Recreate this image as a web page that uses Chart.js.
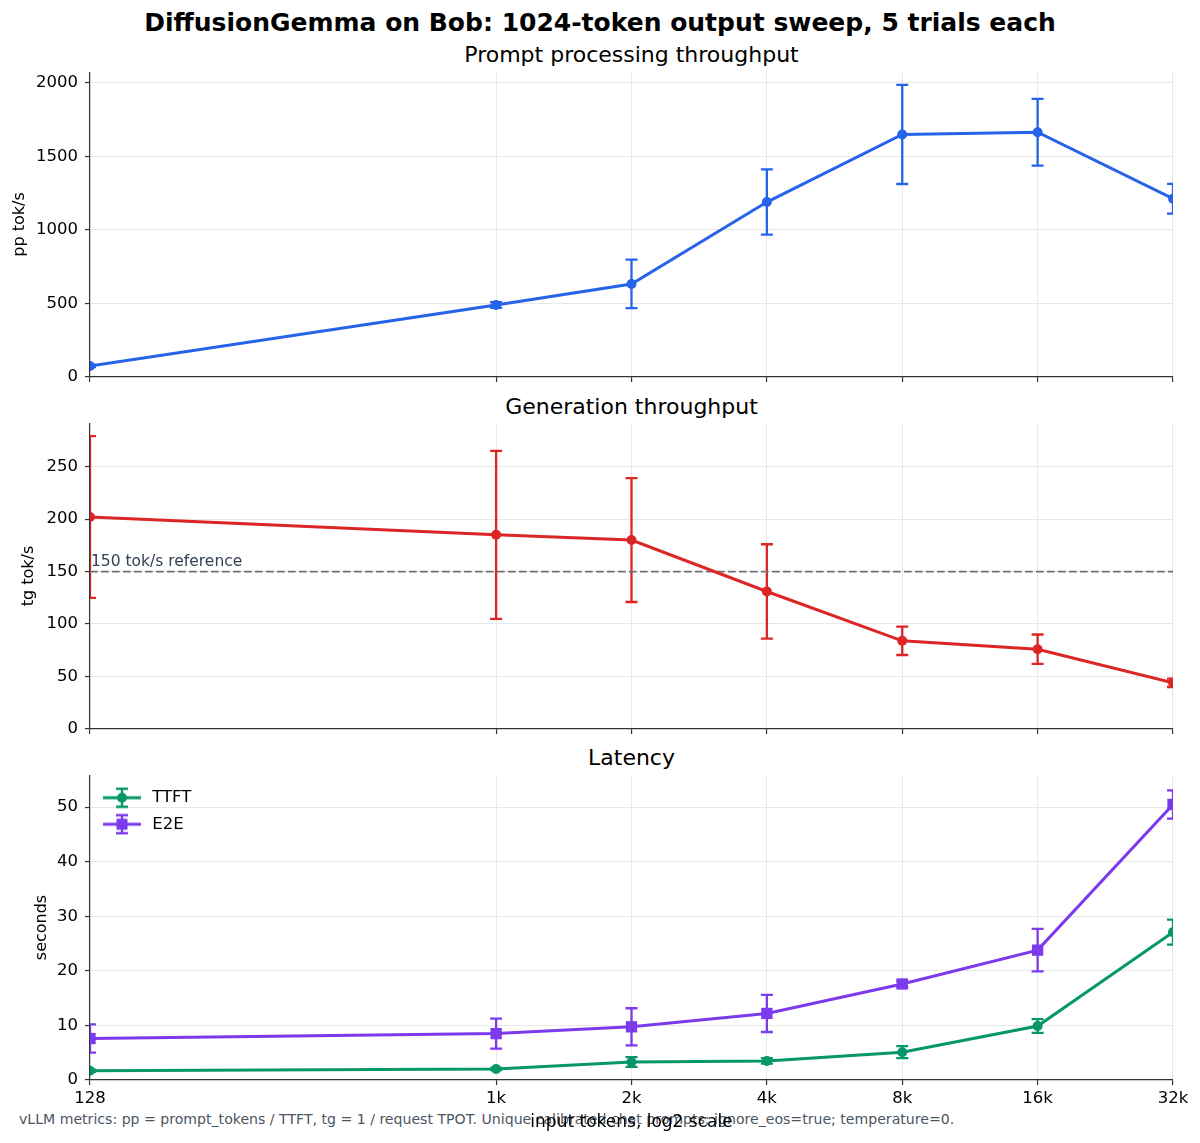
<!DOCTYPE html>
<html>
<head>
<meta charset="utf-8">
<title>DiffusionGemma on Bob</title>
<script src="https://cdn.jsdelivr.net/npm/chart.js@4.4.1/dist/chart.umd.min.js"></script>
<style>
    body { margin: 0; background: #fff; font-family: "DejaVu Sans", sans-serif; }
    #page { position: relative; width: 1200px; height: 1143px; overflow: hidden; background: #fff; }
    .panel { position: absolute; left: 0; width: 1200px; }
    .txt { position: absolute; white-space: nowrap; line-height: 1; color: #000; }
    .subtitle { left: 90px; width: 1083px; text-align: center; font-size: 22px; }
</style>
</head>
<body>
<div id="page">
    <div class="txt" id="note" style="left:19px; top:1112px; font-size:14.1px; color:#4b5563;">vLLM metrics: pp = prompt_tokens / TTFT, tg = 1 / request TPOT. Unique calibrated chat prompts; ignore_eos=true; temperature=0.</div>
    <div class="txt" style="left:0; width:1200px; text-align:center; top:10px; font-size:25px; font-weight:bold;">DiffusionGemma on Bob: 1024-token output sweep, 5 trials each</div>
    <div class="txt subtitle" style="top:43.5px;">Prompt processing throughput</div>
    <div class="txt subtitle" style="top:396px;">Generation throughput</div>
    <div class="txt subtitle" style="top:747px;">Latency</div>
    <div class="panel" style="top:72px; height:315px;"><canvas id="ppChart"></canvas></div>
    <div class="panel" style="top:423px; height:316px;"><canvas id="tgChart"></canvas></div>
    <div class="panel" style="top:775px; height:368px;"><canvas id="latChart"></canvas></div>
</div>
<script>
// input sizes (x axis, log2) and their tick labels
const inputTokens = [128, 1024, 2048, 4096, 8192, 16384, 32768];
const xTickLabels = ['128', '1k', '2k', '4k', '8k', '16k', '32k'];

// prompt processing tok/s, mean and +/- error
const ppMean = [75, 490, 633, 1190, 1650, 1665, 1213];
const ppErr = [8, 20, 165, 222, 337, 227, 101];

// generation tok/s
const tgMean = [202, 185, 180, 131, 84, 76, 44];
const tgErr = [77, 80, 59, 45, 13.5, 14, 4];
const tgReference = 150;

// latency in seconds
const ttftMean = [1.7, 2.0, 3.3, 3.5, 5.1, 9.9, 27.1];
const ttftErr = [0.2, 0.2, 0.9, 0.5, 1.1, 1.25, 2.3];
const e2eMean = [7.6, 8.5, 9.75, 12.2, 17.6, 23.8, 50.5];
const e2eErr = [2.6, 2.75, 3.4, 3.4, 0.6, 3.9, 2.6];

// y ticks per panel
const ppTicks = [0, 500, 1000, 1500, 2000];
const tgTicks = [0, 50, 100, 150, 200, 250];
const latTicks = [0, 10, 20, 30, 40, 50];

const FONT = '"DejaVu Sans", sans-serif';
const GRID = '#e8e8e8';
const SPINE = '#333333';
const TICK_SIZE = 16.5;
const CAP = 6;
const ERR_WIDTH = 2.3;

Chart.defaults.font.family = FONT;
Chart.defaults.color = '#000';
Chart.defaults.animation = false;
Chart.defaults.responsive = true;
Chart.defaults.maintainAspectRatio = false;

const points = (ys) => inputTokens.map((x, i) => ({ x: x, y: ys[i] }));

// no label overhang padding, so the plot box sits exactly in its slot
function noOverhang(scale) {
    scale.paddingTop = 0;
    scale.paddingBottom = 0;
    scale.paddingLeft = 0;
    scale.paddingRight = 0;
}

// vertical error bars with caps, drawn with the chart's own y scale
const errorBars = {
    id: 'errorBars',
    beforeDatasetsDraw(chart) {
        const { ctx, chartArea, scales } = chart;
        ctx.save();
        ctx.beginPath();
        ctx.rect(chartArea.left, chartArea.top, chartArea.width, chartArea.height);
        ctx.clip();
        chart.data.datasets.forEach((ds, i) => {
            if (!ds.errors) return;
            const meta = chart.getDatasetMeta(i);
            ctx.strokeStyle = ds.borderColor;
            ctx.lineWidth = ERR_WIDTH;
            meta.data.forEach((pt, j) => {
                const v = ds.data[j].y;
                const top = scales.y.getPixelForValue(v + ds.errors[j]);
                const bot = scales.y.getPixelForValue(v - ds.errors[j]);
                ctx.beginPath();
                ctx.moveTo(pt.x, top); ctx.lineTo(pt.x, bot);
                ctx.moveTo(pt.x - CAP, top); ctx.lineTo(pt.x + CAP, top);
                ctx.moveTo(pt.x - CAP, bot); ctx.lineTo(pt.x + CAP, bot);
                ctx.stroke();
            });
        });
        ctx.restore();
    }
};

// text label for the reference line
const refLabel = {
    id: 'refLabel',
    afterDatasetsDraw(chart, args, opts) {
        if (!opts.text) return;
        const { ctx, chartArea, scales } = chart;
        const y = scales.y.getPixelForValue(opts.value);
        ctx.save();
        ctx.font = '15.5px ' + FONT;
        ctx.fillStyle = '#334155';
        ctx.textBaseline = 'bottom';
        ctx.fillText(opts.text, chartArea.left + 1, y - 2);
        ctx.restore();
    }
};

function xAxis(showLabels, height, title) {
    return {
        type: 'logarithmic',
        min: 128,
        max: 32768,
        afterBuildTicks: (scale) => { scale.ticks = inputTokens.map(v => ({ value: v })); },
        afterFit: (scale) => { scale.height = height; noOverhang(scale); },
        ticks: {
            display: showLabels,
            autoSkip: false,
            maxRotation: 0,
            padding: 4,
            font: { size: TICK_SIZE },
            color: '#000',
            callback: (v, i) => xTickLabels[i]
        },
        grid: { color: GRID, lineWidth: 1.1, tickColor: SPINE, tickLength: 5, tickWidth: 1.2 },
        border: { color: SPINE, width: 1.2 },
        title: title ? { display: true, text: title, font: { size: 17 }, color: '#000', padding: { top: 0, bottom: 9.8 } } : { display: false }
    };
}

function yAxis(max, ticks, label, titlePad) {
    return {
        type: 'linear',
        min: 0,
        max: max,
        afterBuildTicks: (scale) => { scale.ticks = ticks.map(v => ({ value: v })); },
        afterFit: (scale) => { scale.width = 90; noOverhang(scale); },
        ticks: { font: { size: TICK_SIZE }, color: '#000', padding: 7, callback: (v) => String(v) },
        grid: { color: GRID, lineWidth: 1.1, tickColor: SPINE, tickLength: 5, tickWidth: 1.2 },
        border: { color: SPINE, width: 1.2 },
        title: { display: true, text: label, font: { size: 16 }, color: '#000', padding: { top: titlePad, bottom: 0 } }
    };
}

function lineSet(label, ys, errs, color, shape, radius) {
    return {
        label: label,
        data: points(ys),
        errors: errs,
        borderColor: color,
        backgroundColor: color,
        borderWidth: 3,
        pointStyle: shape,
        pointRadius: radius,
        pointBorderWidth: 0,
        tension: 0
    };
}

// small line + marker + error bar icon for the legend
function legendIcon(color, shape) {
    const c = document.createElement('canvas');
    c.width = 40; c.height = 22;
    const g = c.getContext('2d');
    g.strokeStyle = color; g.fillStyle = color;
    g.lineWidth = 3;
    g.beginPath(); g.moveTo(1, 11); g.lineTo(39, 11); g.stroke();
    g.lineWidth = ERR_WIDTH;
    g.beginPath();
    g.moveTo(20, 2); g.lineTo(20, 20);
    g.moveTo(20 - CAP, 2); g.lineTo(20 + CAP, 2);
    g.moveTo(20 - CAP, 20); g.lineTo(20 + CAP, 20);
    g.stroke();
    if (shape === 'rect') g.fillRect(14.5, 5.5, 11, 11);
    else { g.beginPath(); g.arc(20, 11, 5, 0, Math.PI * 2); g.fill(); }
    return c;
}

const flatLayout = { autoPadding: false, padding: { top: 0, right: 27, bottom: 0, left: 0 } };

new Chart(document.getElementById('ppChart'), {
    type: 'line',
    data: { datasets: [lineSet('pp', ppMean, ppErr, '#2563eb', 'circle', 5)] },
    options: {
        layout: flatLayout,
        plugins: { legend: { display: false }, tooltip: { enabled: false } },
        scales: { x: xAxis(false, 10), y: yAxis(2075, ppTicks, 'pp tok/s', 10.5) }
    },
    plugins: [errorBars]
});

new Chart(document.getElementById('tgChart'), {
    type: 'line',
    data: {
        datasets: [
            lineSet('tg', tgMean, tgErr, '#dc2626', 'circle', 5),
            {
                label: 'reference',
                data: [{ x: 128, y: tgReference }, { x: 32768, y: tgReference }],
                borderColor: '#707070',
                borderWidth: 1.8,
                borderDash: [7.7, 3.3],
                pointRadius: 0
            }
        ]
    },
    options: {
        layout: flatLayout,
        plugins: {
            legend: { display: false },
            tooltip: { enabled: false },
            refLabel: { value: tgReference, text: tgReference + ' tok/s reference' }
        },
        scales: { x: xAxis(false, 10), y: yAxis(291.5, tgTicks, 'tg tok/s', 19.5) }
    },
    plugins: [errorBars, refLabel]
});

new Chart(document.getElementById('latChart'), {
    type: 'line',
    data: {
        datasets: [
            lineSet('TTFT', ttftMean, ttftErr, '#059669', 'circle', 5),
            lineSet('E2E', e2eMean, e2eErr, '#7c3aed', 'rect', 8)
        ]
    },
    options: {
        layout: flatLayout,
        plugins: {
            tooltip: { enabled: false },
            legend: {
                position: 'chartArea',
                align: 'start',
                // empty title just pushes the entries down a little
                title: { display: true, text: ' ', font: { size: 3.75 }, padding: 0 },
                labels: {
                    usePointStyle: true,
                    pointStyleWidth: 44,
                    padding: 10,
                    color: '#000',
                    font: { size: TICK_SIZE },
                    generateLabels: (chart) => chart.data.datasets.map((ds, i) => ({
                        text: ds.label,
                        pointStyle: legendIcon(ds.borderColor, ds.pointStyle),
                        fillStyle: ds.borderColor,
                        strokeStyle: ds.borderColor,
                        lineWidth: 0,
                        hidden: false,
                        datasetIndex: i
                    }))
                }
            }
        },
        scales: { x: xAxis(true, 63, 'input tokens, log2 scale'), y: yAxis(55.9, latTicks, 'seconds', 32.5) }
    },
    plugins: [errorBars]
});
</script>
</body>
</html>
